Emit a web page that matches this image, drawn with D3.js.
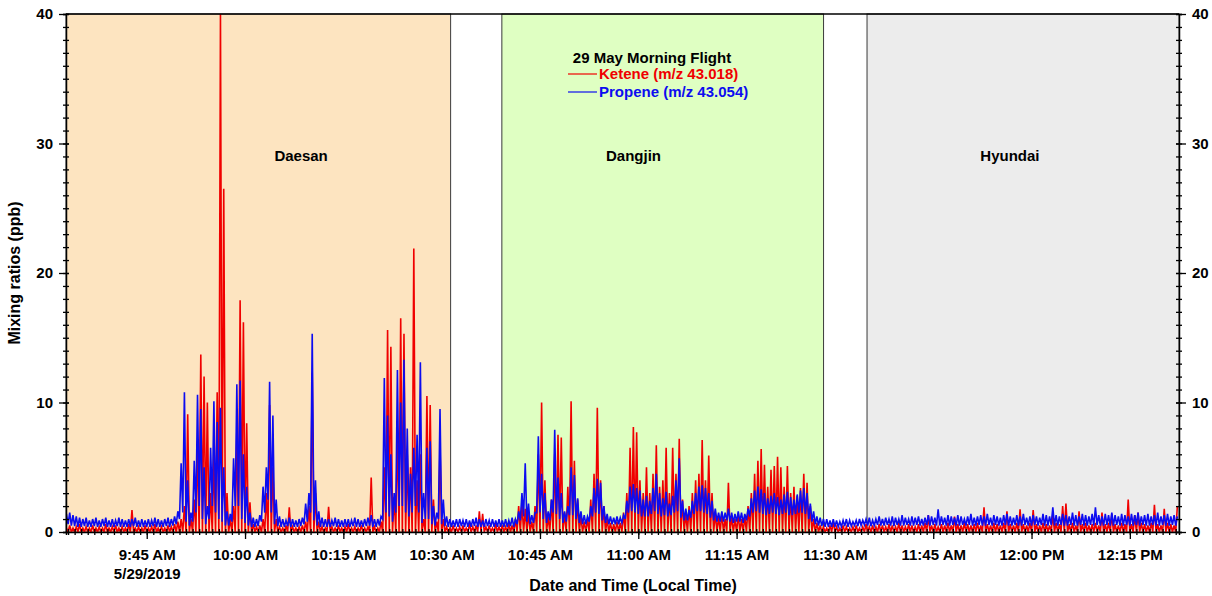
<!DOCTYPE html>
<html>
<head>
<meta charset="utf-8">
<script src="https://cdn.jsdelivr.net/npm/d3@7"></script>
<style>
  body { margin: 0; background: #fff; }
  svg { display: block; font-family: "Liberation Sans", Arial, sans-serif; font-weight: bold; }
</style>
</head>
<body>
<svg id="chart" width="1212" height="596"></svg>
<script>
// 30 s bins: low/high envelope of each bin (ppb)
const binStart = new Date(2019, 4, 29, 9, 32, 30);
const binSeconds = 30;

const ketHi = [
  0.3,0.5,0.3,0.4,0.6,0.3,0.4,0.3,0.5,0.3,
  0.4,0.3,0.6,0.3,0.4,0.5,0.3,0.4,0.3,0.6,
  1.7,0.3,0.4,0.3,0.5,0.3,0.4,0.6,0.3,0.4,
  0.3,0.5,0.4,0.6,0.8,1.0,2.0,9.1,1.0,2.5,
  7.0,13.7,12.0,10.0,3.0,6.0,10.8,40,26.5,3.0,
  1.0,2.0,8.0,17.9,16.2,8.4,2.3,0.6,0.4,0.5,
  1.0,3.0,9.8,5.0,1.0,0.4,0.3,0.5,1.9,0.4,
  0.3,0.4,0.5,0.8,2.0,12.3,3.0,0.8,0.4,0.3,
  1.95,0.4,0.3,0.5,0.3,0.4,0.6,0.3,0.4,0.3,
  0.5,0.3,0.4,4.2,0.4,0.3,0.8,5.0,15.6,14.3,
  2.7,8.0,16.5,15.3,6.0,5.0,21.9,4.0,6.0,1.0,
  10.5,9.8,2.5,0.8,6.6,1.0,0.4,0.3,0.5,0.3,
  0.4,0.5,0.3,0.6,0.4,0.5,1.6,1.4,0.4,0.5,
  0.3,0.6,0.4,0.5,0.4,0.6,0.5,1.0,2.0,2.2,
  1.8,1.5,0.8,2.0,6.0,10.0,4.0,1.2,2.5,6.0,
  7.5,7.3,1.5,3.5,10.1,5.5,2.5,1.2,0.8,1.0,
  2.5,4.5,9.6,4.0,2.0,1.0,0.7,0.6,0.8,0.7,
  1.5,3.0,6.5,8.1,7.7,4.0,3.0,5.0,3.0,4.5,
  6.7,3.5,4.0,6.5,3.0,6.5,4.5,7.2,2.5,1.5,
  2.0,3.0,4.0,4.5,7.1,4.0,5.9,3.0,1.5,1.2,
  1.5,1.0,3.8,1.2,1.0,1.4,1.0,1.2,2.0,3.0,
  4.5,5.5,6.4,5.2,3.5,4.8,5.1,5.8,5.0,3.5,
  5.1,3.0,3.5,2.8,3.4,4.5,3.8,2.0,1.0,0.7,
  0.5,0.4,0.3,0.5,0.8,0.4,0.3,0.5,0.4,0.3,
  0.4,0.5,0.3,0.4,0.6,0.4,0.5,0.4,0.6,0.5,
  0.4,0.6,0.5,0.4,0.7,0.5,0.4,0.6,0.5,0.4,
  0.6,0.5,0.7,1.3,0.5,0.6,0.4,0.6,0.5,0.7,
  0.5,1.2,0.6,0.5,0.7,0.6,0.5,0.6,0.7,0.5,
  1.9,0.6,0.5,0.7,0.6,0.5,0.7,1.6,0.6,0.5,
  0.7,1.75,0.6,0.5,0.7,1.7,0.6,0.5,0.7,0.6,
  0.5,1.4,0.7,0.6,2.0,2.2,0.6,0.7,0.5,1.6,
  0.6,0.7,0.5,0.6,0.7,0.5,1.5,0.6,0.7,1.4,
  0.6,0.5,0.7,0.6,2.5,0.6,1.3,1.5,0.7,0.6,
  0.5,0.7,2.1,0.6,0.5,1.8,0.7,0.6,0.5,2.0
];
const ketLo = 0;

const proHi = [
  1.4,1.5,1.3,1.2,1.1,1.0,1.1,0.9,1.0,1.1,
  0.9,1.0,1.1,0.9,1.0,0.9,1.1,1.0,0.9,1.0,
  1.0,1.1,0.9,1.0,0.9,1.0,0.9,1.1,1.0,0.9,
  1.0,1.1,1.0,1.2,1.6,5.3,10.8,4.0,1.5,5.5,
  10.6,9.5,5.0,2.0,6.5,10.1,8.5,9.6,5.0,1.6,
  1.4,5.7,11.4,11.7,6.0,3.5,1.5,1.1,1.0,1.3,
  3.5,5.0,11.6,9.0,2.5,1.2,1.0,0.9,1.1,1.0,
  0.9,1.0,1.1,2.2,3.0,15.3,4.0,1.6,1.1,1.0,
  1.0,0.9,1.1,1.0,0.9,1.0,1.0,0.9,1.1,1.0,
  0.9,1.0,1.1,1.3,1.0,1.0,1.2,11.9,9.0,6.0,
  3.0,12.5,10.0,13.3,8.0,4.5,6.5,7.5,13.1,3.0,
  6.5,7.0,2.0,1.5,9.5,2.5,1.2,1.0,0.9,1.0,
  1.0,0.9,1.0,0.9,1.0,1.1,1.0,0.9,1.0,0.9,
  1.0,0.9,1.0,0.9,1.0,0.9,1.1,1.0,1.6,3.0,
  5.3,2.2,1.3,1.5,7.4,4.5,3.0,1.6,2.5,7.9,
  4.2,3.0,1.6,2.0,5.0,4.4,2.6,1.6,1.3,1.2,
  2.0,3.4,4.1,3.8,2.0,1.4,1.2,1.1,1.2,1.1,
  1.3,2.4,3.5,3.7,3.4,3.2,2.5,2.8,2.4,3.4,
  4.5,3.0,2.6,3.1,2.2,2.8,4.0,5.7,2.4,1.8,
  1.7,2.4,3.0,3.5,3.6,3.4,3.0,2.4,1.8,1.5,
  1.6,1.5,1.8,1.5,1.4,1.6,1.5,1.4,1.8,2.6,
  3.2,3.5,3.3,3.0,2.6,2.8,3.0,2.7,2.5,2.9,
  3.1,2.7,2.5,2.9,3.2,3.4,3.0,2.2,1.6,1.2,
  1.1,1.0,1.0,0.9,1.0,0.9,0.8,0.9,1.0,0.9,
  0.8,0.9,1.0,0.9,1.0,1.1,0.9,1.0,1.2,1.0,
  1.1,1.0,1.2,1.1,1.0,1.3,1.1,1.0,1.2,1.1,
  1.2,1.0,1.1,1.3,1.2,1.1,1.75,1.2,1.1,1.3,
  1.2,1.1,1.3,1.2,1.0,1.2,1.4,1.1,1.2,1.3,
  1.2,1.4,1.1,1.3,1.2,1.1,1.3,1.4,1.2,1.1,
  1.3,1.2,1.4,1.1,1.2,1.3,1.2,1.1,1.4,1.3,
  1.2,1.9,1.3,1.2,1.4,1.3,1.2,1.5,1.3,1.2,
  1.4,1.3,1.2,1.4,1.9,1.3,1.2,1.4,1.3,1.5,
  1.3,1.2,1.4,1.3,1.2,1.4,1.3,1.5,1.2,1.3,
  1.4,1.2,1.3,1.5,1.2,1.3,1.4,1.2,1.3,1.2
];

const proLo = [
  0.6,0.6,0.5,0.45,0.4,0.4,0.45,0.4,0.4,0.45,
  0.4,0.4,0.45,0.4,0.4,0.4,0.45,0.4,0.4,0.4,
  0.4,0.45,0.4,0.4,0.4,0.4,0.4,0.45,0.4,0.4,
  0.4,0.45,0.4,0.5,0.6,1.0,1.5,0.8,0.5,0.8,
  1.5,2.0,1.0,0.6,1.0,2.0,1.5,1.0,0.8,0.5,
  0.5,0.8,2.0,2.0,1.0,0.7,0.5,0.4,0.4,0.45,
  0.8,1.5,2.5,1.5,0.6,0.45,0.4,0.4,0.45,0.4,
  0.4,0.4,0.45,0.6,0.8,1.5,0.9,0.5,0.4,0.4,
  0.4,0.4,0.45,0.4,0.4,0.4,0.4,0.4,0.45,0.4,
  0.4,0.4,0.45,0.5,0.4,0.4,0.5,1.0,1.5,1.2,
  0.8,1.5,2.0,2.0,1.5,1.2,1.5,2.0,1.5,0.7,
  1.0,1.0,0.6,0.5,1.0,0.6,0.45,0.4,0.4,0.4,
  0.4,0.45,0.4,0.4,0.4,0.45,0.4,0.4,0.4,0.45,
  0.4,0.4,0.4,0.4,0.4,0.4,0.45,0.4,0.6,0.9,
  1.2,0.8,0.6,0.7,1.5,1.5,1.0,0.7,0.9,1.5,
  1.4,1.0,0.7,0.8,1.3,1.3,1.0,0.7,0.6,0.6,
  0.8,1.2,1.5,1.4,0.9,0.7,0.6,0.6,0.6,0.6,
  0.7,1.0,1.5,1.6,1.5,1.4,1.2,1.2,1.2,1.4,
  1.6,1.4,1.2,1.3,1.2,1.3,1.5,1.6,1.1,0.9,
  0.9,1.1,1.4,1.6,1.6,1.5,1.4,1.1,0.9,0.8,
  0.8,0.8,0.9,0.8,0.7,0.8,0.8,0.7,0.9,1.2,
  1.5,1.6,1.5,1.4,1.3,1.4,1.5,1.4,1.3,1.4,
  1.5,1.3,1.3,1.4,1.5,1.5,1.4,1.0,0.8,0.6,
  0.5,0.45,0.4,0.4,0.4,0.4,0.4,0.4,0.45,0.4,
  0.45,0.5,0.45,0.5,0.55,0.5,0.45,0.5,0.55,0.5,
  0.5,0.55,0.5,0.45,0.55,0.5,0.5,0.55,0.5,0.5,
  0.55,0.5,0.5,0.55,0.5,0.55,0.5,0.5,0.55,0.5,
  0.5,0.55,0.5,0.5,0.55,0.5,0.55,0.5,0.5,0.55,
  0.5,0.5,0.55,0.5,0.55,0.5,0.5,0.55,0.5,0.5,
  0.55,0.5,0.5,0.55,0.5,0.5,0.55,0.5,0.55,0.5,
  0.5,0.55,0.5,0.5,0.55,0.5,0.5,0.55,0.5,0.5,
  0.55,0.5,0.5,0.55,0.5,0.55,0.5,0.5,0.55,0.5,
  0.5,0.55,0.5,0.5,0.55,0.5,0.5,0.55,0.5,0.55,
  0.5,0.5,0.55,0.5,0.5,0.55,0.5,0.5,0.55,0.5
];

// sampling areas flown over
const regionNames = ["Daesan", "Dangjin", "Hyundai"];
const regionStart = ["09:32:41", "10:39:11", "11:34:54"];
const regionEnd = ["10:31:22", "11:28:16", "12:22:30"];

const seriesNames = ["Ketene (m/z 43.018)", "Propene (m/z 43.054)"];
const yTicks = [0, 10, 20, 30, 40];
const legendTitle = "29 May Morning Flight";
const dateLabel = "5/29/2019";

// layout
const W = 1212, H = 596;
const margin = { top: 14, right: 33, bottom: 64, left: 66 };
const regionFill = { Daesan: "#fde4c0", Dangjin: "#dfffc2", Hyundai: "#ececec" };
const regionLabelAt = { Daesan: "10:08:33", Dangjin: "10:59:16", Hyundai: "11:56:42" };
const red = "#f00000", blue = "#0c0cf0";

const day = t => { const [h, m, s] = t.split(":").map(Number); return new Date(2019, 4, 29, h, m, s); };

const svg = d3.select("#chart");
const iw = W - margin.left - margin.right;
const ih = H - margin.top - margin.bottom;
const g = svg.append("g").attr("transform", `translate(${margin.left},${margin.top})`);

const x = d3.scaleTime().domain([day("09:32:41"), day("12:22:30")]).range([0, iw]);
const y = d3.scaleLinear().domain([0, 40]).range([ih, 0]);

svg.append("defs").append("clipPath").attr("id", "plot-clip")
  .append("rect").attr("width", iw).attr("height", ih);

// region backgrounds
const regions = regionNames.map((name, i) => ({ name, start: day(regionStart[i]), end: day(regionEnd[i]) }));
g.selectAll(".region").data(regions).join("rect")
  .attr("class", "region")
  .attr("x", d => x(d.start))
  .attr("y", 0)
  .attr("width", d => x(d.end) - x(d.start))
  .attr("height", ih)
  .attr("fill", d => regionFill[d.name])
  .attr("stroke", "#3a3a3a")
  .attr("stroke-width", 1);

g.selectAll(".region-label").data(regions).join("text")
  .attr("class", "region-label")
  .attr("x", d => x(day(regionLabelAt[d.name])))
  .attr("y", 147)
  .attr("text-anchor", "middle")
  .style("font-size", "15px")
  .text(d => d.name);

// series: each bin goes low -> high, like the dense 1 Hz trace
const t0 = binStart.getTime();
function binPoints(hi, lo) {
  const pts = [];
  hi.forEach((v, i) => {
    const t = t0 + i * binSeconds * 1000;
    pts.push([new Date(t), Array.isArray(lo) ? lo[i] : lo]);
    pts.push([new Date(t + binSeconds * 500), v]);
  });
  return pts;
}
const line = d3.line().x(d => x(d[0])).y(d => y(d[1]));

const traces = g.append("g").attr("clip-path", "url(#plot-clip)");
traces.append("path")
  .attr("d", line(binPoints(ketHi, ketLo)))
  .attr("fill", "none").attr("stroke", red).attr("stroke-width", 1.6);
traces.append("path")
  .attr("d", line(binPoints(proHi, proLo)))
  .attr("fill", "none").attr("stroke", blue).attr("stroke-width", 1.6);

// frame top
g.append("line").attr("x1", 0).attr("x2", iw).attr("y1", 0).attr("y2", 0)
  .attr("stroke", "#000").attr("stroke-width", 1.5);

// x axis: minor ticks each minute, major each 15 min
const xMinor = g.append("g").attr("transform", `translate(0,${ih})`)
  .call(d3.axisBottom(x).ticks(d3.timeMinute.every(1)).tickSize(3).tickFormat(""));
xMinor.selectAll(".tick line").attr("y1", -3).attr("stroke-width", 1.3);
xMinor.select(".domain").attr("stroke-width", 1.5);

const fmt = d3.timeFormat("%-I:%M %p");
const xMajor = g.append("g").attr("transform", `translate(0,${ih})`)
  .call(d3.axisBottom(x).ticks(d3.timeMinute.every(15)).tickSize(7).tickFormat(fmt));
xMajor.select(".domain").remove();
xMajor.selectAll(".tick line").attr("y1", -3).attr("stroke-width", 1.3);
xMajor.selectAll(".tick text").attr("y", 17).style("font-size", "15px").attr("fill", "#000");
xMajor.selectAll(".tick").filter((d, i) => i === 0).append("text")
  .attr("y", 36).attr("dy", "0.71em").attr("fill", "#000")
  .style("font-size", "15px").text(dateLabel);

// y axes on both sides
function yAxis(side) {
  const gen = side === "left" ? d3.axisLeft : d3.axisRight;
  const a = g.append("g").attr("transform", side === "left" ? null : `translate(${iw},0)`);
  a.call(gen(y).ticks(40).tickSize(3).tickFormat(""));
  a.selectAll(".tick line").attr("x1", side === "left" ? 3 : -3).attr("stroke-width", 1.3);
  a.select(".domain").attr("stroke-width", 1.5);
  const m = g.append("g").attr("transform", side === "left" ? null : `translate(${iw},0)`)
    .call(gen(y).tickValues(yTicks).tickSize(7).tickPadding(6));
  m.select(".domain").remove();
  m.selectAll(".tick line").attr("x1", side === "left" ? 3 : -3).attr("stroke-width", 1.3);
  m.selectAll(".tick text").style("font-size", "15px").attr("fill", "#000");
}
yAxis("left");
yAxis("right");

// axis titles
svg.append("text")
  .attr("transform", `translate(20,${margin.top + ih / 2}) rotate(-90)`)
  .attr("text-anchor", "middle")
  .style("font-size", "16px")
  .text("Mixing ratios (ppb)");
svg.append("text")
  .attr("x", 633).attr("y", 591)
  .attr("text-anchor", "middle")
  .style("font-size", "16px")
  .text("Date and Time (Local Time)");

// legend
const lg = svg.append("g");
lg.append("text").attr("x", 652).attr("y", 63).attr("text-anchor", "middle")
  .style("font-size", "15px").text(legendTitle);
[red, blue].forEach((c, i) => {
  const yy = 74 + i * 18;
  lg.append("line").attr("x1", 568).attr("x2", 597).attr("y1", yy).attr("y2", yy)
    .attr("stroke", c).attr("stroke-width", 1.2);
  lg.append("text").attr("x", 599).attr("y", yy + 5)
    .attr("fill", c).style("font-size", "15px").text(seriesNames[i]);
});
</script>
</body>
</html>
